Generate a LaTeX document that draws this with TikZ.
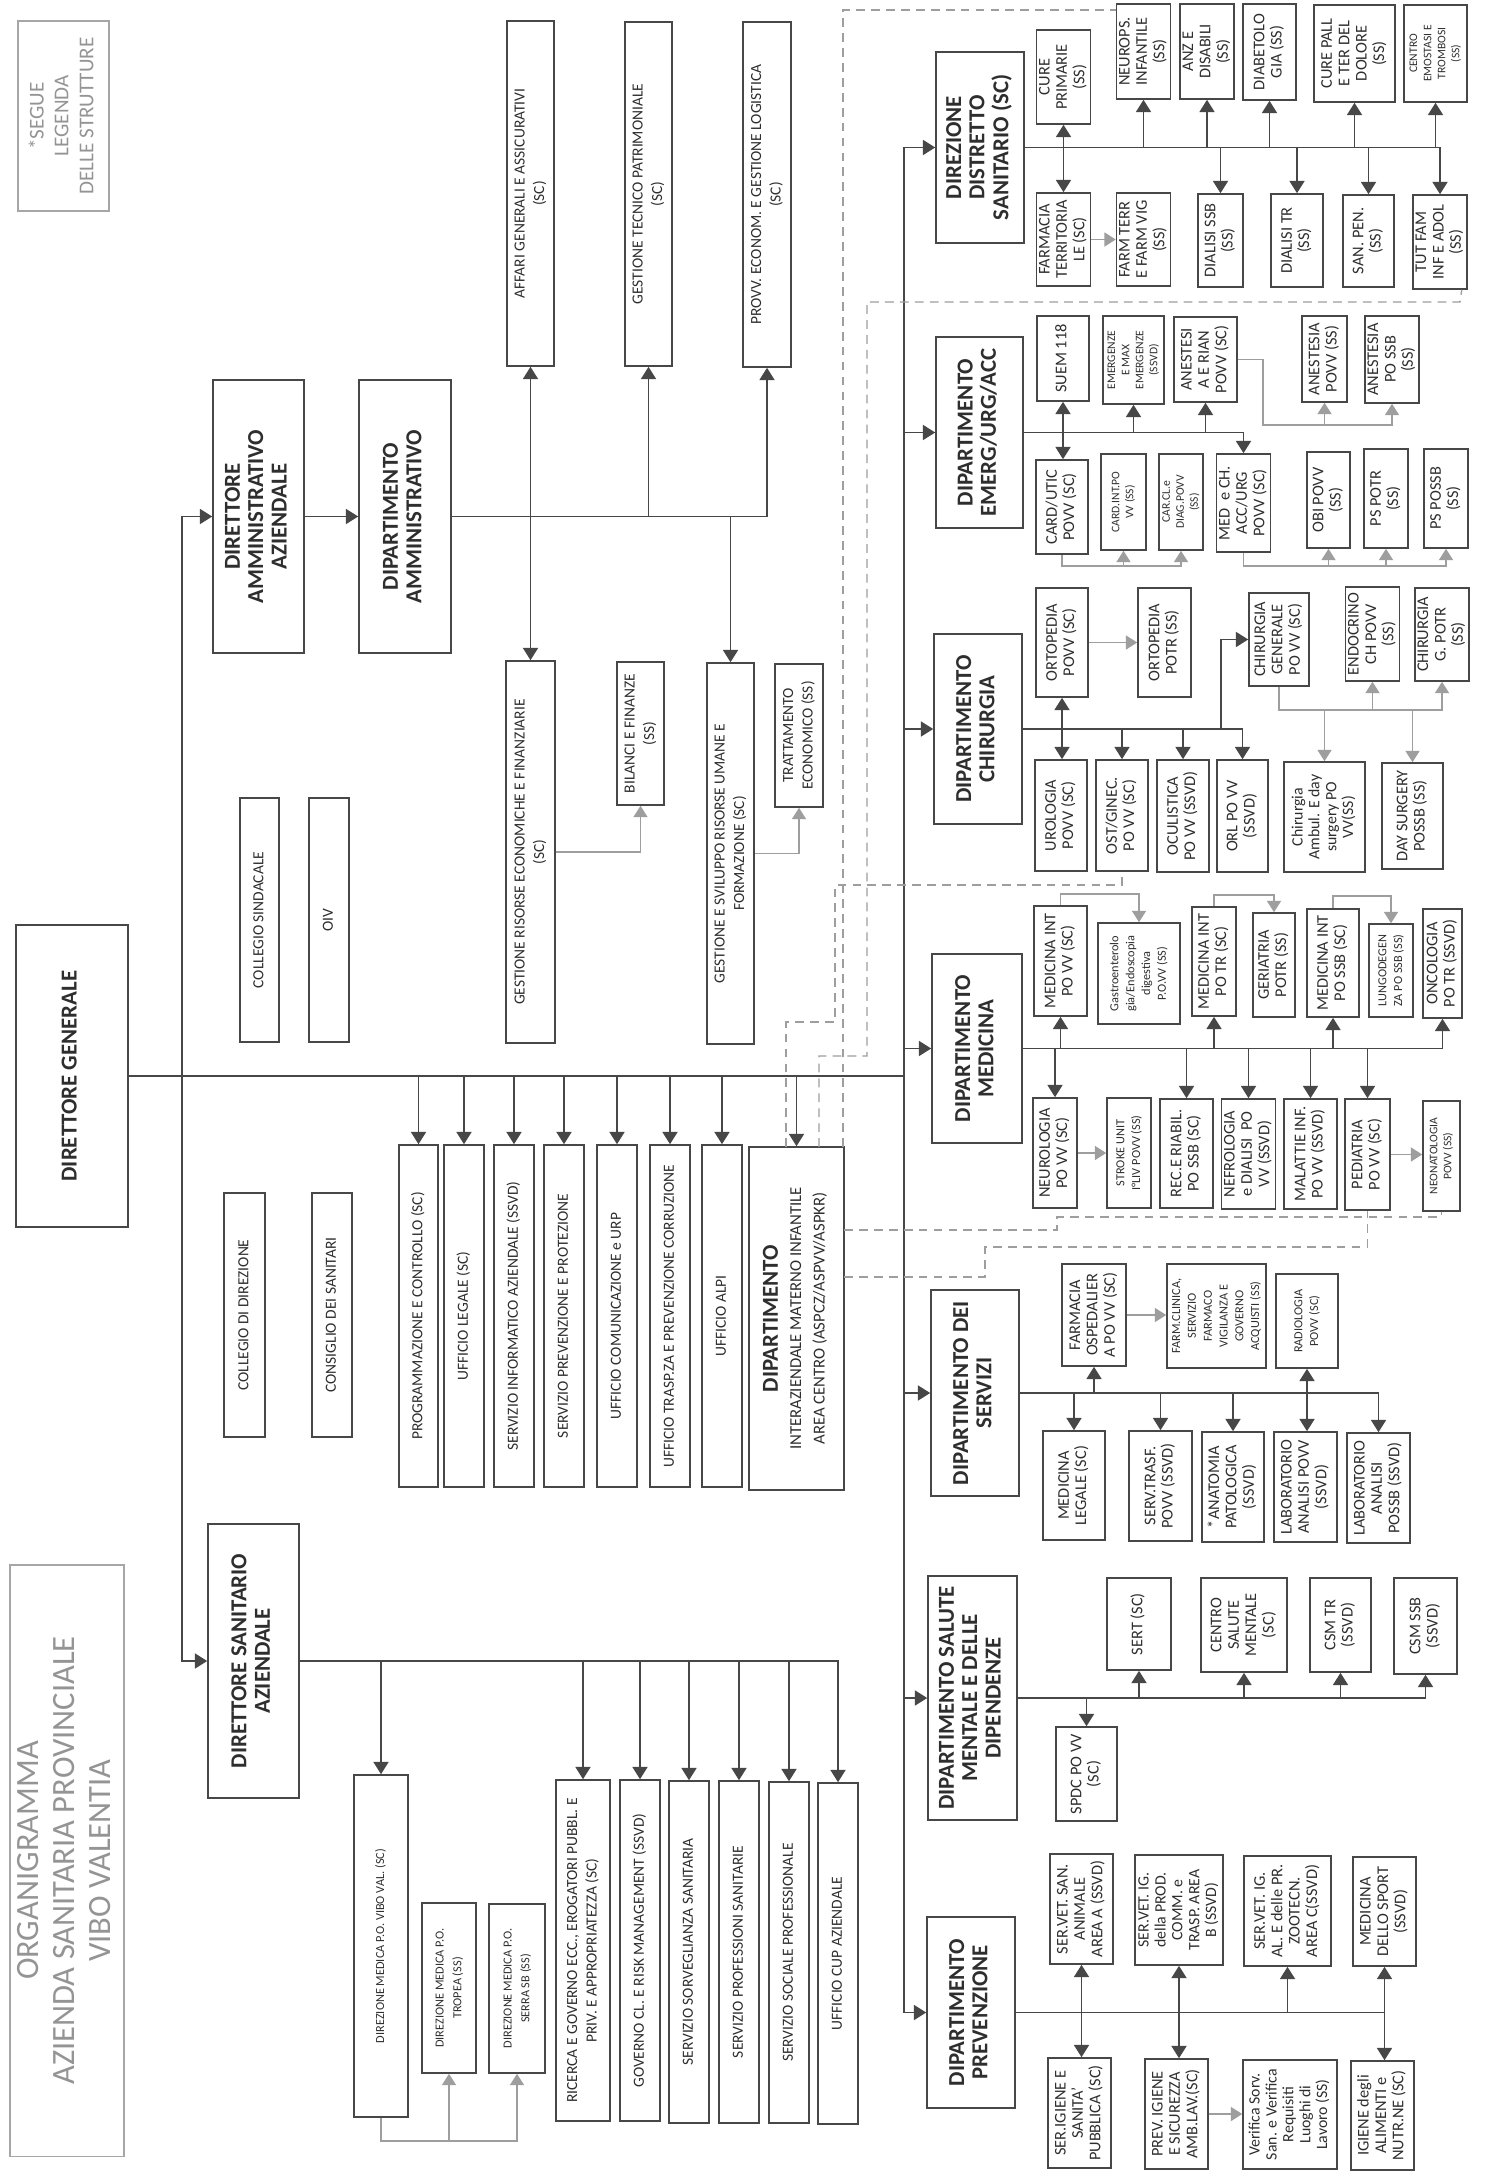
\documentclass[tikz,border=0pt]{standalone}
\usepackage{fontspec}
\setmainfont{Carlito}
\usepackage{graphicx}
\usetikzlibrary{arrows.meta}

\tikzset{
  ufficio/.style={draw=black!72,line width=0.9pt,text=black!82,inner sep=0.5pt,fM},
  capo/.style={font=\bfseries\fontsize{13}{13.3}\selectfont},
  fM/.style={font=\fontsize{9.3}{9.9}\selectfont},
  fMc/.style={font=\fontsize{9}{9.6}\selectfont},
  fS/.style={font=\fontsize{8.8}{11}\selectfont},
  fXS/.style={font=\fontsize{7}{9}\selectfont},
  fT/.style={font=\fontsize{6.6}{8}\selectfont},
  sfumato/.style={draw=black!35,text=black!42,line width=0.6pt},
  linea/.style={draw=black!72,line width=1.1pt},
  freccia/.style={linea,-{Triangle[width=8.5pt,length=7pt]}},
  doppia/.style={linea,{Triangle[width=8.5pt,length=7pt]}-{Triangle[width=8.5pt,length=7pt]}},
  grigia/.style={draw=black!38,line width=0.9pt,-{Triangle[width=8pt,length=6.5pt]}},
  tratteggio/.style={draw=black!38,line width=0.8pt,dash pattern=on 5pt off 3.5pt}
}

% box by its corners (x1,y1) (x2,y2)
\newcommand{\ubox}[7][]{%
  \node[ufficio,#1,minimum width={(#5-#3)*0.02cm},minimum height={(#6-#4)*0.02cm}]
    (#2) at ({(#3+#5)/2},{(#4+#6)/2}) {\rotatebox{90}{\begin{tabular}{@{}c@{}}#7\end{tabular}}};}

\begin{document}
\begin{tikzpicture}[x=0.02cm,y=-0.02cm]
  \path[use as bounding box,fill=white] (0,0) rectangle (1510,2179);
  %%% legenda, titolo
  \ubox[sfumato,font=\fontsize{12}{14.2}\selectfont]{legenda}{18}{21}{109}{211}{*SEGUE\\LEGENDA\\DELLE STRUTTURE}
  \ubox[sfumato,font=\fontsize{18.5}{20.5}\selectfont]{titolo}{10}{1565}{124}{2156}{ORGANIGRAMMA\\AZIENDA SANITARIA PROVINCIALE\\VIBO VALENTIA}
  %%% direzione
  \ubox[capo]{dg}{16}{925}{128}{1227}{DIRETTORE GENERALE}
  \ubox[capo]{da}{213}{380}{304}{653}{DIRETTORE\\AMMINISTRATIVO\\AZIENDALE}
  \ubox[capo]{dam}{359}{380}{451}{653}{DIPARTIMENTO\\AMMINISTRATIVO}
  \ubox[capo]{ds}{208}{1524}{299}{1798}{DIRETTORE SANITARIO\\AZIENDALE}
  \ubox[fS]{colsind}{240}{798}{279}{1042}{COLLEGIO SINDACALE}
  \ubox[fS]{oiv}{309}{798}{349}{1042}{OIV}
  \ubox[fS]{coldir}{224}{1193}{265}{1437}{COLLEGIO DI DIREZIONE}
  \ubox[fS]{consan}{312}{1193}{352}{1437}{CONSIGLIO DEI SANITARI}
  %%% staff
  \ubox[fS]{progr}{399}{1145}{438}{1487}{PROGRAMMAZIONE E CONTROLLO (SC)}
  \ubox[fS]{legale}{444}{1145}{484}{1487}{UFFICIO LEGALE (SC)}
  \ubox[fS]{inform}{494}{1145}{534}{1487}{SERVIZIO INFORMATICO AZIENDALE (SSVD)}
  \ubox[fS]{prevprot}{544}{1145}{584}{1487}{SERVIZIO PREVENZIONE E PROTEZIONE}
  \ubox[fS]{comunic}{597}{1145}{637}{1487}{UFFICIO COMUNICAZIONE e URP}
  \ubox[fS]{trasp}{650}{1145}{690}{1487}{UFFICIO TRASP.ZA E PREVENZIONE CORRUZIONE}
  \ubox[fS]{alpi}{702}{1145}{742}{1487}{UFFICIO ALPI}
  \ubox[font=\fontsize{9.5}{13.3}\selectfont]{matinf}{749}{1147}{844}{1490}{{\bfseries\fontsize{13}{14}\selectfont DIPARTIMENTO}\\INTERAZIENDALE MATERNO INFANTILE\\AREA CENTRO (ASPCZ/ASPVV/ASPKR)}
  %%% area amministrativa
  \ubox[fS]{affari}{507}{21}{554}{366}{AFFARI GENERALI E ASSICURATIVI\\(SC)}
  \ubox[fS]{gestec}{625}{22}{672}{366}{GESTIONE TECNICO PATRIMONIALE\\(SC)}
  \ubox[fS]{provv}{743}{22}{791}{367}{PROVV. ECONOM. E GESTIONE LOGISTICA\\(SC)}
  \ubox[fS]{gesrisec}{506}{661}{555}{1043}{GESTIONE RISORSE ECONOMICHE E FINANZIARIE\\(SC)}
  \ubox[fS]{bilanci}{617}{662}{664}{805}{BILANCI E FINANZE\\(SS)}
  \ubox[fS]{gesrisum}{707}{663}{754}{1044}{GESTIONE E SVILUPPO RISORSE UMANE E\\FORMAZIONE (SC)}
  \ubox[fS]{trattec}{775}{664}{823}{807}{TRATTAMENTO\\ECONOMICO (SS)}
  %%% area sanitaria
  \ubox[fXS]{vibo}{354}{1775}{408}{2117}{DIREZIONE MEDICA P.O. VIBO VAL. (SC)}
  \ubox[font=\fontsize{7}{10}\selectfont]{tropea}{422}{1903}{476}{2073}{DIREZIONE MEDICA P.O.\\TROPEA (SS)}
  \ubox[font=\fontsize{7}{10}\selectfont]{serra}{489}{1904}{545}{2073}{DIREZIONE MEDICA P.O.\\SERRA SB (SS)}
  \ubox[fS]{ricerca}{556}{1780}{610}{2121}{RICERCA E GOVERNO ECC., EROGATORI PUBBL. E\\PRIV. E APPROPRIATEZZA (SC)}
  \ubox[fS]{governo}{620}{1780}{660}{2121}{GOVERNO CL. E RISK MANAGEMENT (SSVD)}
  \ubox[fS]{sorv}{669}{1781}{709}{2123}{SERVIZIO SORVEGLIANZA SANITARIA}
  \ubox[fS]{profsan}{719}{1781}{759}{2123}{SERVIZIO PROFESSIONI SANITARIE}
  \ubox[fS]{sociale}{769}{1782}{809}{2123}{SERVIZIO SOCIALE PROFESSIONALE}
  \ubox[fS]{cup}{818}{1783}{858}{2124}{UFFICIO CUP AZIENDALE}
  %%% dipartimenti
  \ubox[capo]{dsd}{936}{52}{1024}{243}{DIREZIONE\\DISTRETTO\\SANITARIO (SC)}
  \ubox[capo]{emerg}{936}{337}{1023}{528}{DIPARTIMENTO\\EMERG/URG/ACC}
  \ubox[capo]{chir}{934}{634}{1022}{824}{DIPARTIMENTO\\CHIRURGIA}
  \ubox[capo]{med}{932}{954}{1022}{1143}{DIPARTIMENTO\\MEDICINA}
  \ubox[capo]{serv}{931}{1290}{1019}{1496}{DIPARTIMENTO DEI\\SERVIZI}
  \ubox[capo]{sal}{928}{1576}{1017}{1820}{DIPARTIMENTO SALUTE\\MENTALE E DELLE\\DIPENDENZE}
  \ubox[capo]{prev}{927}{1917}{1015}{2108}{DIPARTIMENTO\\PREVENZIONE}
  %%% distretto
  \ubox{cure}{1037}{30}{1090}{124}{CURE\\PRIMARIE\\(SS)}
  \ubox{neurops}{1117}{4}{1170}{99}{NEUROPS.\\INFANTILE\\(SS)}
  \ubox{anz}{1181}{4}{1233}{99}{ANZ E\\DISABILI\\(SS)}
  \ubox{diab}{1243}{4}{1296}{100}{DIABETOLO\\GIA (SS)}
  \ubox{curepall}{1314}{5}{1395}{102}{CURE PALL\\E TER DEL\\DOLORE\\(SS)}
  \ubox[fT]{emost}{1404}{5}{1467}{102}{CENTRO\\EMOSTASI E\\TROMBOSI\\(SS)}
  \ubox{farmter}{1037}{193}{1090}{286}{FARMACIA\\TERRITORIA\\LE (SC)}
  \ubox{farmvig}{1117}{193}{1170}{286}{FARM TERR\\E FARM VIG\\(SS)}
  \ubox{dialssb}{1198}{194}{1243}{287}{DIALISI SSB\\(SS)}
  \ubox{dialtr}{1271}{194}{1323}{287}{DIALISI TR\\(SS)}
  \ubox{sanpen}{1343}{195}{1394}{287}{SAN. PEN.\\(SS)}
  \ubox{tutfam}{1414}{195}{1466}{289}{TUT FAM\\INF E ADOL\\(SS)}
  %%% emergenza
  \ubox{suem}{1037}{316}{1089}{401}{SUEM 118}
  \ubox[fT]{emergmax}{1103}{316}{1164}{404}{EMERGENZE\\E MAX\\EMERGENZE\\(SSVD)}
  \ubox{anest}{1174}{317}{1237}{402}{ANESTESI\\A E RIAN\\POVV (SC)}
  \ubox{anpovv}{1302}{316}{1347}{402}{ANESTESIA\\POVV (SS)}
  \ubox{anssb}{1365}{316}{1419}{403}{ANESTESIA\\PO SSB\\(SS)}
  \ubox{cardutic}{1036}{460}{1088}{554}{CARD/UTIC\\POVV (SC)}
  \ubox[fT]{cardint}{1101}{454}{1146}{550}{CARD.INT.PO\\VV (SS)}
  \ubox[fT]{carcl}{1159}{454}{1203}{550}{CAR.CL.e\\DIAG.POVV\\(SS)}
  \ubox{medch}{1218}{454}{1269}{552}{MED\ \ e CH.\\ACC/URG\\POVV (SC)}
  \ubox{obi}{1307}{452}{1350}{548}{OBI POVV\\(SS)}
  \ubox{pspotr}{1364}{449}{1408}{548}{PS POTR\\(SS)}
  \ubox{pspossb}{1424}{449}{1468}{548}{PS POSSB\\(SS)}
  %%% chirurgia
  \ubox{ortvv}{1036}{588}{1088}{697}{ORTOPEDIA\\POVV (SC)}
  \ubox{ortr}{1138}{588}{1191}{697}{ORTOPEDIA\\POTR (SS)}
  \ubox{chirgen}{1249}{593}{1309}{686}{CHIRURGIA\\GENERALE\\PO VV (SC)}
  \ubox{endocr}{1346}{587}{1399}{681}{ENDOCRINO\\CH POVV\\(SS)}
  \ubox{chirpotr}{1416}{588}{1468}{681}{CHIRURGIA\\G. POTR\\(SS)}
  \ubox{urol}{1035}{760}{1087}{871}{UROLOGIA\\POVV (SC)}
  \ubox{ostgin}{1096}{760}{1148}{871}{OST/GINEC.\\PO VV (SC)}
  \ubox{ocul}{1157}{760}{1209}{872}{OCULISTICA\\PO VV (SSVD)}
  \ubox{orl}{1217}{760}{1268}{872}{ORL PO VV\\(SSVD)}
  \ubox[fMc]{chiramb}{1284}{762}{1365}{872}{Chirurgia\\Ambul. E day\\surgery PO\\VV(SS)}
  \ubox{dayss}{1382}{763}{1443}{869}{DAY SURGERY\\POSSB (SS)}
  %%% medicina
  \ubox{medvv}{1034}{906}{1087}{1016}{MEDICINA INT\\PO VV (SC)}
  \ubox[fXS]{gastro}{1098}{923}{1180}{1024}{Gastroenterolo\\gia/Endoscopia\\digestiva\\P.O.VV (SS)}
  \ubox{medtr}{1192}{907}{1236}{1016}{MEDICINA INT\\PO TR (SC)}
  \ubox{geriat}{1253}{913}{1295}{1017}{GERIATRIA\\POTR (SS)}
  \ubox{medssb}{1307}{909}{1359}{1017}{MEDICINA INT\\PO SSB (SC)}
  \ubox[fXS]{lungod}{1369}{924}{1413}{1017}{LUNGODEGEN\\ZA PO SSB (SS)}
  \ubox{oncol}{1423}{909}{1462}{1018}{ONCOLOGIA\\PO TR (SSVD)}
  \ubox{neuro}{1033}{1098}{1077}{1208}{NEUROLOGIA\\PO VV (SC)}
  \ubox[fXS]{stroke}{1107}{1098}{1151}{1208}{STROKE UNIT\\I°LIV POVV (SS)}
  \ubox{recr}{1160}{1099}{1213}{1208}{REC.E RIABIL.\\PO SSB (SC)}
  \ubox{nefro}{1222}{1099}{1275}{1209}{NEFROLOGIA\\e DIALISI\ \ PO\\VV (SSVD)}
  \ubox{malinf}{1284}{1099}{1337}{1209}{MALATTIE INF.\\PO VV (SSVD)}
  \ubox{pediat}{1345}{1099}{1390}{1210}{PEDIATRIA\\PO VV (SC)}
  \ubox[fT]{neonat}{1423}{1101}{1460}{1211}{NEONATOLOGIA\\POVV (SS)}
  %%% servizi
  \ubox{farmosp}{1062}{1264}{1126}{1366}{FARMACIA\\OSPEDALIER\\A PO VV (SC)}
  \ubox[fXS]{farmclin}{1167}{1264}{1266}{1368}{FARM.CLINICA,\\SERVIZIO\\FARMACO\\VIGILANZA E\\GOVERNO\\ACQUISTI (SS)}
  \ubox[fXS]{radio}{1276}{1274}{1338}{1368}{RADIOLOGIA\\POVV (SC)}
  \ubox{medleg}{1043}{1431}{1105}{1540}{MEDICINA\\LEGALE (SC)}
  \ubox{trasf}{1129}{1431}{1192}{1541}{SERV.TRASF.\\POVV (SSVD)}
  \ubox{anatom}{1202}{1432}{1264}{1542}{*ANATOMIA\\PATOLOGICA\\(SSVD)}
  \ubox{labvv}{1274}{1432}{1337}{1542}{LABORATORIO\\ANALISI POVV\\(SSVD)}
  \ubox{labssb}{1347}{1433}{1410}{1543}{LABORATORIO\\ANALISI\\POSSB (SSVD)}
  %%% salute mentale
  \ubox{sert}{1107}{1578}{1171}{1670}{SERT (SC)}
  \ubox{csm}{1201}{1578}{1287}{1672}{CENTRO\\SALUTE\\MENTALE\\(SC)}
  \ubox{csmtr}{1310}{1578}{1371}{1672}{CSM TR\\(SSVD)}
  \ubox{csmssb}{1394}{1578}{1457}{1674}{CSM SSB\\(SSVD)}
  \ubox{spdc}{1056}{1727}{1117}{1821}{SPDC PO VV\\(SC)}
  %%% prevenzione
  \ubox{servetA}{1050}{1854}{1113}{1964}{SER.VET. SAN.\\ANIMALE\\AREA A (SSVD)}
  \ubox[fMc]{servetB}{1135}{1855}{1223}{1965}{SER.VET. IG.\\della PROD.\\COMM. e\\TRASP. AREA\\B (SSVD)}
  \ubox{servetC}{1244}{1856}{1331}{1966}{SER.VET. IG.\\AL. E delle PR.\\ZOOTECN.\\AREA C(SSVD)}
  \ubox{sport}{1353}{1857}{1416}{1966}{MEDICINA\\DELLO SPORT\\(SSVD)}
  \ubox{igpub}{1048}{2058}{1111}{2168}{SER.IGIENE E\\SANITA'\\PUBBLICA (SC)}
  \ubox{prevlav}{1145}{2059}{1208}{2169}{PREV. IGIENE\\E SICUREZZA\\AMB.LAV.(SC)}
  \ubox[fMc]{verif}{1243}{2060}{1337}{2169}{Verifica Sorv.\\San. e Verifica\\Requisiti\\Luoghi di\\Lavoro (SS)}
  \ubox{igalim}{1351}{2061}{1414}{2170}{IGIENE degli\\ALIMENTI e\\NUTR.NE (SC)}

  %%% define points
  \path (182,1076) coordinate (gb);
  \path (904,1076) coordinate (mb);
  \path (1263,425) coordinate (ga);
  \path (1221,729) coordinate (cb);
  \path (786,1147) coordinate (t1);
  \path (835,1022) coordinate (t1b);
  \path (1122,885) coordinate (t1c);
  \path (819,1147) coordinate (t2);
  \path (867,1056) coordinate (t2b);
  \path (1460,302) coordinate (t2c);
  \path (843,1147) coordinate (t3);
  \path (844,1230) coordinate (t4);
  \path (1057,1217) coordinate (t4b);
  \path (844,1277) coordinate (t5);
  \path (985,1247) coordinate (t5b);

  %%% Edges: direzione
  \draw[linea] (dg.east) -- (mb);
  \draw[freccia] (gb) |- (da.west);
  \draw[freccia] (gb) |- (ds.west);
  \draw[freccia] (da.east) -- (dam.west);
  \draw[freccia] (mb -| progr) -- (progr.north);
  \draw[freccia] (mb -| legale) -- (legale.north);
  \draw[freccia] (mb -| inform) -- (inform.north);
  \draw[freccia] (mb -| prevprot) -- (prevprot.north);
  \draw[freccia] (mb -| comunic) -- (comunic.north);
  \draw[freccia] (mb -| trasp) -- (trasp.north);
  \draw[freccia] (mb -| alpi) -- (alpi.north);
  \draw[freccia] (mb -| matinf) -- (matinf.north);
  %%% amministrativo
  \draw[freccia] (dam.east) -| (provv.south);
  \draw[freccia] (dam.east -| affari) -- (affari.south);
  \draw[freccia] (dam.east -| gestec) -- (gestec.south);
  \draw[freccia] (dam.east -| gesrisec) -- (gesrisec.north);
  \draw[freccia] (dam.east -| gesrisum) -- (gesrisum.north);
  \draw[grigia] (gesrisec.east) -| (bilanci.south);
  \draw[grigia] (gesrisum.east) -| (trattec.south);
  %%% sanitario
  \draw[freccia] (ds.east) -| (cup.north);
  \draw[freccia] (ds.east -| vibo) -- (vibo.north);
  \draw[freccia] (ds.east -| ricerca) -- (ricerca.north);
  \draw[freccia] (ds.east -| governo) -- (governo.north);
  \draw[freccia] (ds.east -| sorv) -- (sorv.north);
  \draw[freccia] (ds.east -| profsan) -- (profsan.north);
  \draw[freccia] (ds.east -| sociale) -- (sociale.north);
  \path (vibo.south) ++(0,23) coordinate (gv);
  \draw[grigia] (vibo.south) -- (gv) -| (serra.south);
  \draw[grigia] (gv -| tropea) -- (tropea.south);
  %%% bus dei dipartimenti
  \draw[freccia] (mb) |- (dsd.west);
  \draw[freccia] (mb) |- (prev.west);
  \draw[freccia] (mb |- emerg.west) -- (emerg.west);
  \draw[freccia] (mb |- chir.west) -- (chir.west);
  \draw[freccia] (mb |- med.west) -- (med.west);
  \draw[freccia] (mb |- serv.west) -- (serv.west);
  \draw[freccia] (mb |- sal.west) -- (sal.west);
  %%% distretto
  \draw[freccia] (dsd.east) -| (tutfam.north);
  \draw[doppia] (cure.south) -- (farmter.north);
  \draw[freccia] (dsd.east -| neurops) -- (neurops.south);
  \draw[freccia] (dsd.east -| anz) -- (anz.south);
  \draw[freccia] (dsd.east -| diab) -- (diab.south);
  \draw[freccia] (dsd.east -| curepall) -- (curepall.south);
  \draw[freccia] (dsd.east -| emost) -- (emost.south);
  \draw[freccia] (dsd.east -| dialssb) -- (dialssb.north);
  \draw[freccia] (dsd.east -| dialtr) -- (dialtr.north);
  \draw[freccia] (dsd.east -| sanpen) -- (sanpen.north);
  \draw[grigia] (farmter.east) -- (farmvig.west);
  %%% emergenza
  \draw[freccia] (emerg.east) -| (medch.north);
  \draw[doppia] (suem.south) -- (suem.south |- cardutic.north);
  \draw[freccia] (emerg.east -| emergmax) -- (emergmax.south);
  \draw[freccia] (emerg.east -| anest) -- (anest.south);
  \draw[grigia] (anest.east) -| (ga) -| (anssb.south);
  \draw[grigia] (ga -| anpovv) -- (anpovv.south);
  \path (cardutic.south) ++(0,11) coordinate (gb1);
  \draw[grigia] (cardutic.south) -- (gb1) -| (carcl.south);
  \draw[grigia] (gb1 -| cardint) -- (cardint.south);
  \path (medch.south) ++(0,13) coordinate (gb2);
  \draw[grigia] (medch.south) -- (gb2) -| (pspossb.south);
  \draw[grigia] (gb2 -| obi) -- (obi.south);
  \draw[grigia] (gb2 -| pspotr) -- (pspotr.south);
  %%% chirurgia
  \draw[freccia] (chir.east) -| (orl.north);
  \draw[doppia] (ortvv.south) -- (ortvv.south |- urol.north);
  \draw[freccia] (chir.east -| ostgin) -- (ostgin.north);
  \draw[freccia] (chir.east -| ocul) -- (ocul.north);
  \draw[freccia] (cb) |- (chirgen.west);
  \draw[grigia] (ortvv.east) -- (ortr.west);
  \path (chirgen.south) ++(0,23) coordinate (gc);
  \draw[grigia] (chirgen.south) -- (gc) -| (chirpotr.south);
  \draw[grigia] (gc -| endocr) -- (endocr.south);
  \draw[grigia] (gc -| chiramb) -- (chiramb.north);
  \draw[grigia] (gc -| dayss) -- (dayss.north);
  %%% medicina
  \draw[freccia] (med.east) -| (oncol.south);
  \draw[freccia] (med.east -| medvv) -- (medvv.south);
  \draw[freccia] (med.east -| medtr) -- (medtr.south);
  \draw[freccia] (med.east -| medssb) -- (medssb.south);
  \draw[freccia] (med.east -| neuro) -- (neuro.north);
  \draw[freccia] (med.east -| recr) -- (recr.north);
  \draw[freccia] (med.east -| nefro) -- (nefro.north);
  \draw[freccia] (med.east -| malinf) -- (malinf.north);
  \draw[freccia] (med.east -| pediat) -- (pediat.north);
  \draw[grigia] (medvv.north) -- ++(0,-11) -| (gastro.north);
  \draw[grigia] (medtr.north) -- ++(0,-11) -| (geriat.north);
  \draw[grigia] (medssb.north) -- ++(0,-12) -| (lungod.north);
  \draw[grigia] (neuro.east) -- (stroke.west);
  \draw[grigia] (pediat.east) -- (pediat.east -| neonat.west);
  %%% servizi
  \draw[freccia] (serv.east) -| (labssb.north);
  \draw[freccia] (serv.east -| farmosp) -- (farmosp.south);
  \draw[doppia] (radio.south) -- (radio.south |- labvv.north);
  \draw[freccia] (serv.east -| medleg) -- (medleg.north);
  \draw[freccia] (serv.east -| trasf) -- (trasf.north);
  \draw[freccia] (serv.east -| anatom) -- (anatom.north);
  \draw[grigia] (farmosp.east) -- (farmosp.east -| farmclin.west);
  %%% salute mentale
  \draw[freccia] (sal.east) -| (csmssb.south);
  \draw[freccia] (sal.east -| sert) -- (sert.south);
  \draw[freccia] (sal.east -| csm) -- (csm.south);
  \draw[freccia] (sal.east -| csmtr) -- (csmtr.south);
  \draw[freccia] (sal.east -| spdc) -- (spdc.north);
  %%% prevenzione
  \draw[linea] (prev.east) -- (prev.east -| sport);
  \draw[doppia] (servetA.south) -- (servetA.south |- igpub.north);
  \draw[doppia] (servetB.south) -- (servetB.south |- prevlav.north);
  \draw[freccia] (prev.east -| servetC) -- (servetC.south);
  \draw[doppia] (sport.south) -- (sport.south |- igalim.north);
  \draw[grigia] (prevlav.east) -- (prevlav.east -| verif.west);
  %%% materno infantile
  \draw[tratteggio] (t1) |- (t1b) |- (t1c) -- (ostgin.south);
  \draw[tratteggio] (t2) |- (t2b) |- (t2c) -- ([xshift=-0.12cm]tutfam.south east);
  \draw[tratteggio] (t3) |- ([yshift=-0.14cm]neurops.north west);
  \draw[tratteggio] (t4) -| (t4b) -| (neonat.south);
  \draw[tratteggio] (t5) -| (t5b) -| (pediat.south);
\end{tikzpicture}
\end{document}
